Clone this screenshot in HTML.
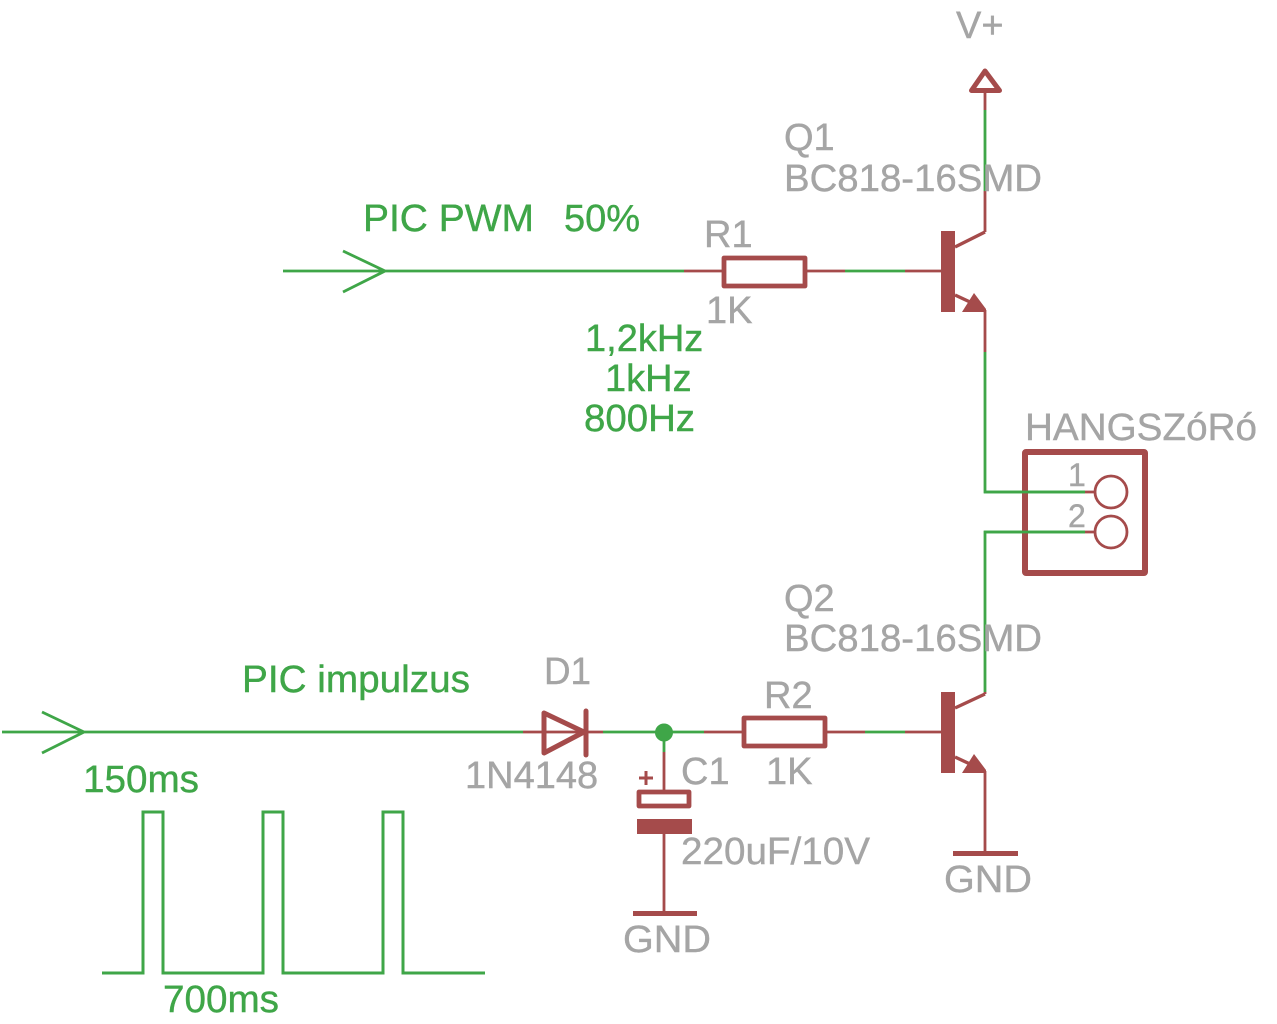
<!DOCTYPE html>
<html><head><meta charset="utf-8"><style>
html,body{margin:0;padding:0;background:#fff}
svg{display:block}
text{font-family:"Liberation Sans",sans-serif;font-size:38px;stroke-width:.4px}
.g text{fill:#a5a5a5;stroke:#a5a5a5}
.t text{fill:#3fa648;stroke:#3fa648}
</style></head><body>
<svg width="1277" height="1024" viewBox="0 0 1277 1024" xmlns="http://www.w3.org/2000/svg">
<g fill="none" stroke="#3fa648" stroke-width="2.8">
<path d="M283 271H684M343 251L385 271L343 292"/>
<path d="M2 732H523M42 712L84 732L42 753"/>
<path d="M102 973H143V812H163V973H263V812H283V973H383V812H403V973H485" stroke-width="3"/>
<path d="M845 271H905M603 732H704M865 732H905M664 732V752M985 110V191M985 352V492H1085M1085 532H985V692"/>
</g>
<circle cx="664" cy="732.5" r="9" fill="#3fa648"/>
<g fill="none" stroke="#a54b4b" stroke-width="2.8">
<path d="M684 271H722M806 271H845M905 271H941"/>
<path d="M985 92V110M985 191V232"/>
<path d="M985 232L955 247M955 295L970 302M955 708L985 694M955 757L970 764" stroke-width="3.4"/>
<path d="M985 310V352"/>
<path d="M1085 492H1095M1085 532H1095"/>
<circle cx="1111" cy="492" r="16"/><circle cx="1111" cy="532" r="16"/>
<path d="M523 732H603M704 732H742M826 732H865M905 732H941"/>
<path d="M664 752V790M664 834V913"/>
<path d="M985 692V694M985 771V853"/>
<path d="M639 778H653M646 771V785" stroke-width="3"/>
</g>
<g fill="none" stroke="#a54b4b" stroke-width="4.8" stroke-linejoin="round" stroke-linecap="round">
<path d="M985 71L971.5 90.5H999.5Z" stroke-width="5"/>
<rect x="724" y="258" width="81" height="28"/>
<rect x="744" y="718" width="81" height="28"/>
<rect x="639" y="792" width="50" height="14"/>
<path d="M544 713V753L584 732Z" stroke-width="5"/>
<path d="M586 711V755" stroke-width="5"/>
</g>
<rect x="1025" y="452" width="120" height="121" rx="1" fill="none" stroke="#a54b4b" stroke-width="6"/>
<g fill="#a54b4b">
<rect x="941" y="231" width="14" height="81"/>
<rect x="941" y="692" width="14" height="81"/>
<path d="M974 293L962 312L986 312L986 309Z"/>
<path d="M974 754L962 773L986 773L986 770Z"/>
<rect x="637" y="819" width="55" height="15"/>
<rect x="633" y="911" width="64" height="5"/>
<rect x="953" y="851" width="65" height="5"/>
</g>
<path d="M984 492H1085M1085 532H984" fill="none" stroke="#3fa648" stroke-width="2.8"/>
<g class="g">
<text x="956" y="38">V+</text>
<text x="784" y="150">Q1</text>
<text x="784" y="191" textLength="258" lengthAdjust="spacingAndGlyphs">BC818-16SMD</text>
<text x="704" y="247">R1</text>
<text x="706" y="323">1K</text>
<text x="1025" y="440" textLength="232" lengthAdjust="spacingAndGlyphs">HANGSZóRó</text>
<text x="1068" y="486" style="font-size:32px">1</text>
<text x="1068" y="527" style="font-size:32px">2</text>
<text x="784" y="611">Q2</text>
<text x="784" y="651" textLength="258" lengthAdjust="spacingAndGlyphs">BC818-16SMD</text>
<text x="544" y="684" textLength="47" lengthAdjust="spacingAndGlyphs">D1</text>
<text x="465" y="788">1N4148</text>
<text x="764" y="708">R2</text>
<text x="766" y="784">1K</text>
<text x="681" y="784">C1</text>
<text x="681" y="864" textLength="189" lengthAdjust="spacingAndGlyphs">220uF/10V</text>
<text x="623" y="952" textLength="88" lengthAdjust="spacingAndGlyphs">GND</text>
<text x="944" y="892" textLength="88" lengthAdjust="spacingAndGlyphs">GND</text>
</g>
<g class="t">
<text x="363" y="231" textLength="171" lengthAdjust="spacingAndGlyphs">PIC PWM</text>
<text x="564" y="231">50%</text>
<text x="585" y="351">1,2kHz</text>
<text x="605" y="391">1kHz</text>
<text x="584" y="431" textLength="111" lengthAdjust="spacingAndGlyphs">800Hz</text>
<text x="242" y="692" textLength="228" lengthAdjust="spacingAndGlyphs">PIC impulzus</text>
<text x="83" y="792" textLength="116" lengthAdjust="spacingAndGlyphs">150ms</text>
<text x="163" y="1012" textLength="116" lengthAdjust="spacingAndGlyphs">700ms</text>
</g>
</svg>
</body></html>
